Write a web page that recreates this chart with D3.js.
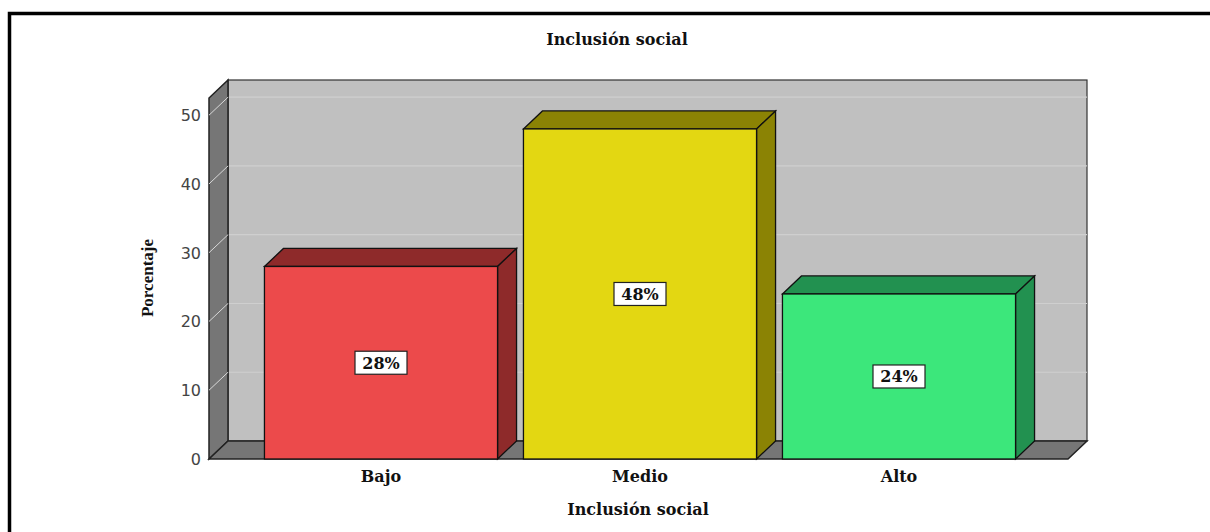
<!DOCTYPE html>
<html>
<head>
<meta charset="utf-8">
<script src="https://cdn.jsdelivr.net/npm/d3@7"></script>
<style>
  body { margin: 0; background: #fff; }
  svg { display: block; }
</style>
</head>
<body>
<div id="chart"></div>
<script>
// values
const categories = ["Bajo", "Medio", "Alto"];
const values = [28, 48, 24];
const percentLabels = ["28%", "48%", "24%"];
const yTicks = [0, 10, 20, 30, 40, 50];
const frontColors = ["#ec4a4b", "#e3d712", "#3ce77b"];
const darkColors = ["#8e2a2a", "#8b8304", "#229150"];

const W = 1210, H = 532;
const depthX = 19, depthY = 18;

const svg = d3.select("#chart")
    .append("svg")
    .attr("width", W)
    .attr("height", H);

// outer frame (runs off the page on right and bottom)
svg.append("rect")
    .attr("x", 9.5).attr("y", 13.5)
    .attr("width", W).attr("height", H)
    .attr("fill", "#fff")
    .attr("stroke", "#000")
    .attr("stroke-width", 3.5);

const floorLeft = 209, floorRight = 1068;
const y = d3.scaleLinear()
    .domain([0, 52.5])
    .range([459, 98]);

const x = d3.scaleBand()
    .domain(categories)
    .range([251.5, 1028.5])
    .paddingInner(0.1)
    .paddingOuter(0.05);

const y0 = y(0), yMax = y(52.5);

// back wall
svg.append("rect")
    .attr("x", floorLeft + depthX)
    .attr("y", yMax - depthY)
    .attr("width", floorRight - floorLeft)
    .attr("height", y0 - yMax)
    .attr("fill", "#c0c0c0")
    .attr("stroke", "#333")
    .attr("stroke-width", 1.2);

// gridlines on back wall
svg.selectAll(".grid")
    .data(yTicks.filter(d => d > 0))
    .join("line")
    .attr("x1", floorLeft + depthX)
    .attr("x2", floorRight + depthX)
    .attr("y1", d => y(d) - depthY)
    .attr("y2", d => y(d) - depthY)
    .attr("stroke", "#cfcfcf")
    .attr("stroke-width", 1.2);

// left wall
svg.append("path")
    .attr("d", `M${floorLeft},${y0} L${floorLeft},${yMax} L${floorLeft + depthX},${yMax - depthY} L${floorLeft + depthX},${y0 - depthY} Z`)
    .attr("fill", "#767676")
    .attr("stroke", "#222")
    .attr("stroke-width", 1.5);

// floor
svg.append("path")
    .attr("d", `M${floorLeft},${y0} L${floorRight},${y0} L${floorRight + depthX},${y0 - depthY} L${floorLeft + depthX},${y0 - depthY} Z`)
    .attr("fill", "#767676")
    .attr("stroke", "#222")
    .attr("stroke-width", 1.5);

// tick lines on left wall
svg.selectAll(".wallTick")
    .data(yTicks.filter(d => d > 0))
    .join("line")
    .attr("x1", floorLeft)
    .attr("x2", floorLeft + depthX)
    .attr("y1", d => y(d))
    .attr("y2", d => y(d) - depthY)
    .attr("stroke", "#d8d8d8")
    .attr("stroke-width", 1);

// y axis labels
svg.selectAll(".yTick")
    .data(yTicks)
    .join("text")
    .attr("x", 201)
    .attr("y", d => y(d) + 6)
    .attr("text-anchor", "end")
    .attr("font-family", "DejaVu Sans, Verdana, sans-serif")
    .attr("font-size", "16px")
    .attr("fill", "#444")
    .text(d => d);

// bars
const bars = svg.selectAll(".bar")
    .data(values)
    .join("g");

bars.append("path") // top face
    .attr("d", (d, i) => {
        const x0 = x(categories[i]), x1 = x0 + x.bandwidth(), yt = y(d);
        return `M${x0},${yt} L${x0 + depthX},${yt - depthY} L${x1 + depthX},${yt - depthY} L${x1},${yt} Z`;
    })
    .attr("fill", (d, i) => darkColors[i])
    .attr("stroke", "#111")
    .attr("stroke-width", 1.3);

bars.append("path") // side face
    .attr("d", (d, i) => {
        const x1 = x(categories[i]) + x.bandwidth(), yt = y(d);
        return `M${x1},${yt} L${x1 + depthX},${yt - depthY} L${x1 + depthX},${y0 - depthY} L${x1},${y0} Z`;
    })
    .attr("fill", (d, i) => darkColors[i])
    .attr("stroke", "#111")
    .attr("stroke-width", 1.3);

bars.append("rect") // front face
    .attr("x", (d, i) => x(categories[i]))
    .attr("y", d => y(d))
    .attr("width", x.bandwidth())
    .attr("height", d => y0 - y(d))
    .attr("fill", (d, i) => frontColors[i])
    .attr("stroke", "#111")
    .attr("stroke-width", 1.3);

// value labels in boxes
const labels = bars.append("g")
    .attr("transform", (d, i) => `translate(${x(categories[i]) + x.bandwidth() / 2}, ${(y(d) + y0) / 2})`);

labels.append("rect")
    .attr("x", -26).attr("y", -11.5)
    .attr("width", 52).attr("height", 23)
    .attr("fill", "#fff")
    .attr("stroke", "#222")
    .attr("stroke-width", 1.2);

labels.append("text")
    .attr("y", 6)
    .attr("text-anchor", "middle")
    .attr("font-family", "DejaVu Serif, serif")
    .attr("font-weight", "bold")
    .attr("font-size", "16px")
    .attr("fill", "#111")
    .text((d, i) => percentLabels[i]);

// category labels
svg.selectAll(".xLabel")
    .data(categories)
    .join("text")
    .attr("x", d => x(d) + x.bandwidth() / 2)
    .attr("y", 482)
    .attr("text-anchor", "middle")
    .attr("font-family", "DejaVu Serif, serif")
    .attr("font-weight", "bold")
    .attr("font-size", "16px")
    .attr("fill", "#111")
    .text(d => d);

// titles
svg.append("text")
    .attr("x", 617)
    .attr("y", 45)
    .attr("text-anchor", "middle")
    .attr("font-family", "DejaVu Serif, serif")
    .attr("font-weight", "bold")
    .attr("font-size", "16px")
    .attr("fill", "#111")
    .text("Inclusión social");

svg.append("text")
    .attr("x", 638)
    .attr("y", 515)
    .attr("text-anchor", "middle")
    .attr("font-family", "DejaVu Serif, serif")
    .attr("font-weight", "bold")
    .attr("font-size", "16px")
    .attr("fill", "#111")
    .text("Inclusión social");

svg.append("text")
    .attr("transform", "translate(153, 278) rotate(-90)")
    .attr("text-anchor", "middle")
    .attr("font-family", "Liberation Serif, serif")
    .attr("font-weight", "bold")
    .attr("font-size", "17px")
    .attr("fill", "#111")
    .text("Porcentaje");
</script>
</body>
</html>
